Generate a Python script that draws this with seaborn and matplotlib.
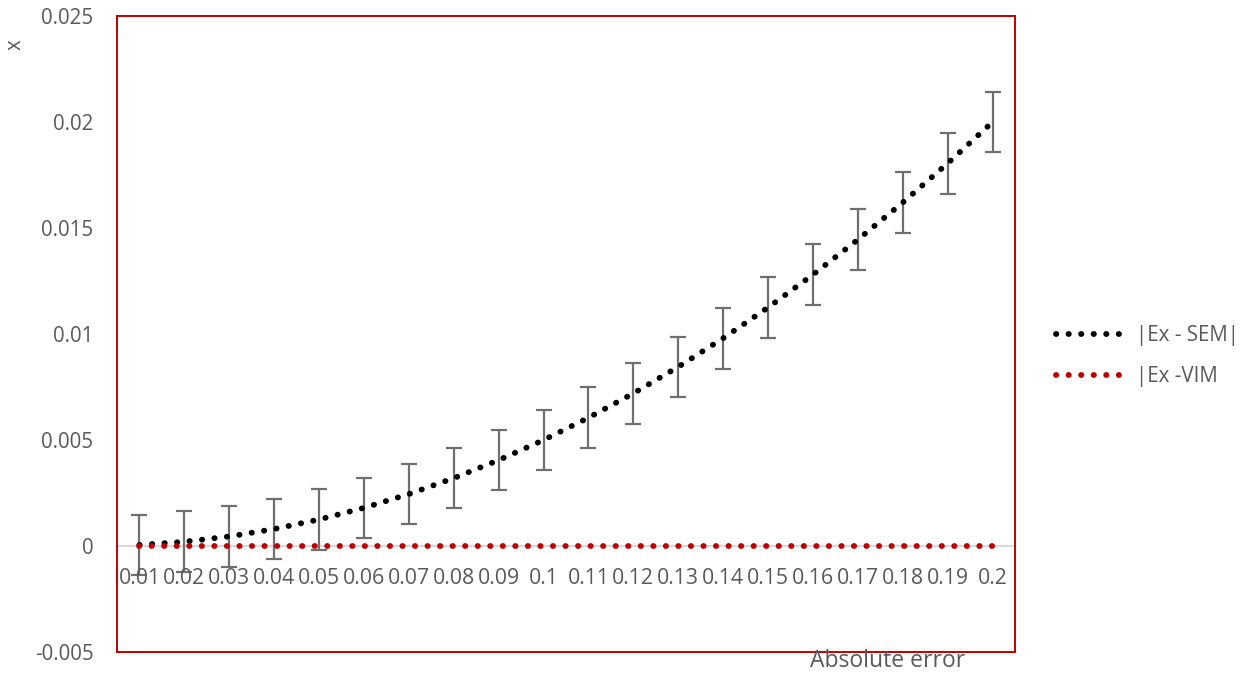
import matplotlib
matplotlib.use("Agg")
import matplotlib.pyplot as plt
from matplotlib.lines import Line2D
import seaborn as sns
import numpy as np
import pandas as pd

categories = ["0.01", "0.02", "0.03", "0.04", "0.05", "0.06", "0.07", "0.08", "0.09", "0.1",
              "0.11", "0.12", "0.13", "0.14", "0.15", "0.16", "0.17", "0.18", "0.19", "0.2"]
sem_err = [0.00005, 0.0002, 0.00045, 0.0008, 0.00125, 0.0018, 0.00245, 0.0032, 0.00405, 0.005,
           0.00605, 0.0072, 0.00845, 0.0098, 0.01125, 0.0128, 0.01445, 0.0162, 0.01805, 0.02]
vim_err = [0.0] * 20
sem_bar = [0.00143] * 20
yticks = [-0.005, 0, 0.005, 0.01, 0.015, 0.02, 0.025]
ytick_labels = ["-0.005", "0", "0.005", "0.01", "0.015", "0.02", "0.025"]

sns.set_style("white")
plt.rcParams["font.family"] = ["Open Sans", "DejaVu Sans"]

text_color = "#595959"
frame_color = "#C00000"

fig = plt.figure(figsize=(12.48, 6.75), dpi=100)
ax = fig.add_axes([117 / 1248, 1 - 652 / 675, (1015 - 117) / 1248, (652 - 16) / 675])

pos = np.arange(len(categories))
df = pd.DataFrame({"pos": np.concatenate([pos, pos]),
                   "value": sem_err + vim_err,
                   "series": ["|Ex - SEM|"] * 20 + ["|Ex -VIM"] * 20})

ax.axhline(0, color="#d9d9d9", lw=1.5, zorder=1)

ax.errorbar(pos, sem_err, yerr=sem_bar, fmt="none", ecolor="#6f6f6f",
            elinewidth=1.6, capsize=6, capthick=1.6, zorder=2)

dot = (0, (0.05, 2.1))
lw = 4.2
sns.lineplot(data=df, x="pos", y="value", hue="series",
             palette={"|Ex - SEM|": "black", "|Ex -VIM": frame_color},
             ax=ax, linewidth=lw, legend=False, zorder=3)
for line in ax.lines[-2:]:
    line.set_linestyle(dot)
    line.set_dash_capstyle("round")

ax.set_xlim(-0.5, len(categories) - 0.5)
ax.set_ylim(-0.005, 0.025)
ax.set_yticks(yticks)
ax.set_yticklabels(ytick_labels, fontsize=14.8, color=text_color)
ax.set_xticks([])
ax.tick_params(axis="y", length=0, pad=17)
ax.set_xlabel("")
ax.set_ylabel("")

# category labels sit just under the zero line
for p, lab in zip(pos, categories):
    ax.text(p, -0.00155, lab, ha="center", va="center", fontsize=15.3, color=text_color)

for s in ax.spines.values():
    s.set_visible(True)
    s.set_color(frame_color)
    s.set_linewidth(1.4)

# axis titles
fig.text(15 / 1248, 1 - 45 / 675, "x", rotation=90, ha="center", va="center",
         fontsize=14.8, color=text_color)
fig.text(888 / 1248, 1 - 661 / 675, "Absolute error", ha="center", va="center",
         fontsize=16.5, color=text_color)

# legend
handles = [Line2D([], [], color="black", lw=lw, linestyle=dot, dash_capstyle="round"),
           Line2D([], [], color=frame_color, lw=lw, linestyle=dot, dash_capstyle="round")]
leg = fig.legend(handles, ["|Ex - SEM|", "|Ex -VIM"], loc="center left",
                 bbox_to_anchor=(1037 / 1248, 1 - 356 / 675), frameon=False,
                 fontsize=14.8, labelcolor=text_color, handlelength=3.4,
                 labelspacing=1.0, handletextpad=0.5)

fig.savefig("out.png", dpi=100)
